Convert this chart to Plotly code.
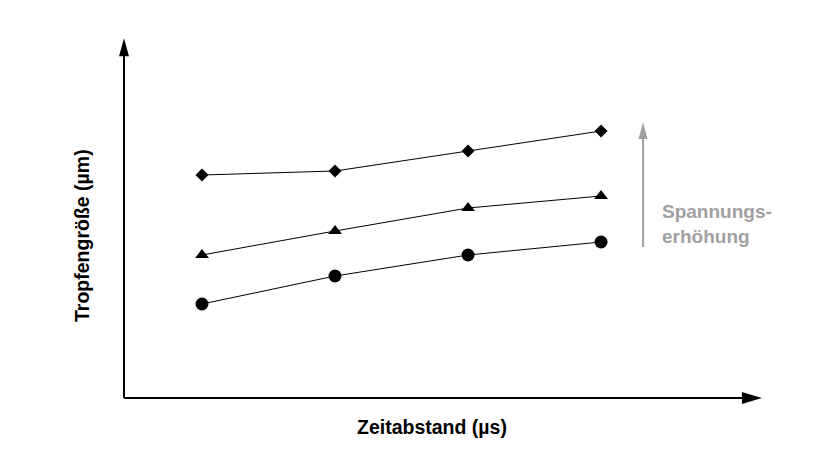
import plotly.graph_objects as go

# Zeitabstand positions (arbitrary units, no tick labels in the original)
zeitabstand = [1, 2, 3, 4]

# Tropfengröße per voltage level (arbitrary units)
tropfen_niedrig = [9.4, 12.2, 14.3, 15.6]
tropfen_mittel = [14.3, 16.7, 19.0, 20.2]
tropfen_hoch = [22.3, 22.7, 24.7, 26.7]

fig = go.Figure()

series = [
    (tropfen_niedrig, "circle", 13),
    (tropfen_mittel, "triangle-up", 12),
    (tropfen_hoch, "diamond", 10),
]
for vals, sym, size in series:
    fig.add_trace(go.Scatter(
        x=zeitabstand, y=vals, mode="lines+markers",
        line=dict(color="black", width=1),
        marker=dict(symbol=sym, size=size, color="black"),
        showlegend=False,
    ))

# axis lines with arrow heads (heads sized in pixels)
fig.add_shape(type="line", xref="paper", yref="paper", x0=0, y0=0, x1=0, y1=0.97,
              line=dict(color="black", width=2))
fig.add_shape(type="path", xref="paper", yref="paper", xsizemode="pixel", ysizemode="pixel",
              xanchor=0, yanchor=1.005, path="M -5,-18 L 0,0 L 5,-18 Z",
              fillcolor="black", line=dict(width=0))
fig.add_shape(type="line", xref="paper", yref="paper", x0=0, y0=0, x1=0.985, y1=0,
              line=dict(color="black", width=2))
fig.add_shape(type="path", xref="paper", yref="paper", xsizemode="pixel", ysizemode="pixel",
              xanchor=1.003, yanchor=0, path="M -20,-6 L 0,0 L -20,6 Z",
              fillcolor="black", line=dict(width=0))

# Spannungserhöhung arrow + label
fig.add_shape(type="line", xref="x", yref="y", x0=4.316, y0=15.1, x1=4.316, y1=26.5,
              line=dict(color="#a0a0a0", width=2))
fig.add_shape(type="path", xref="x", yref="y", xsizemode="pixel", ysizemode="pixel",
              xanchor=4.316, yanchor=27.6, path="M -4.5,-17 L 0,0 L 4.5,-17 Z",
              fillcolor="#a0a0a0", line=dict(width=0))
fig.add_annotation(x=4.44, y=17.4, xref="x", yref="y",
                   text="Spannungs-<br>erhöhung", showarrow=False,
                   xanchor="left", yanchor="middle", align="left",
                   font=dict(family="Liberation Sans", size=19, color="#a0a0a0", weight="bold"))

# axis titles
fig.add_annotation(x=0.484, y=0, xref="paper", yref="paper", yshift=-29,
                   text="Zeitabstand (µs)", showarrow=False, yanchor="middle",
                   font=dict(family="Liberation Sans", size=19.5, color="black", weight="bold"))
fig.add_annotation(x=0, y=0.4525, xref="paper", yref="paper", xshift=-42,
                   text="Tropfengröße (µm)", showarrow=False, textangle=-90,
                   xanchor="center", yanchor="middle",
                   font=dict(family="Liberation Sans", size=19.5, color="black", weight="bold"))

fig.update_xaxes(range=[0.4135, 5.195], showgrid=False, zeroline=False,
                 showline=False, showticklabels=False)
fig.update_yaxes(range=[0, 35.8], showgrid=False, zeroline=False,
                 showline=False, showticklabels=False)
fig.update_layout(
    width=825, height=464,
    margin=dict(l=116, r=73, t=32, b=74),
    plot_bgcolor="white", paper_bgcolor="white",
)

fig.write_html("out.html")
